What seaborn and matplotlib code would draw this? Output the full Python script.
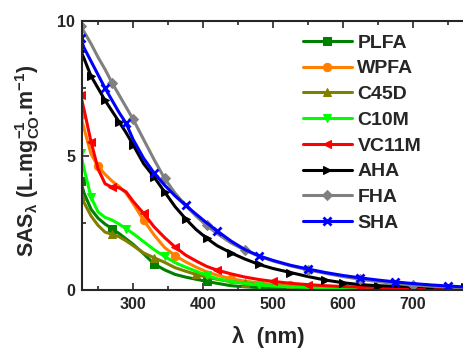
import numpy as np
import matplotlib
matplotlib.use('Agg')
import matplotlib.pyplot as plt
import seaborn as sns
from matplotlib.ticker import MultipleLocator, FixedLocator

wl = [225, 230, 240, 250, 260, 270, 280, 290, 300, 315, 330, 345, 360, 375, 390, 405,
      420, 440, 460, 480, 500, 525, 550, 575, 600, 625, 650, 675, 700, 725, 750, 775, 800]

plfa = [4.05, 3.6, 3.0, 2.67, 2.45, 2.28, 2.1, 1.9, 1.7, 1.35, 0.97, 0.75, 0.58, 0.48, 0.4, 0.32,
        0.25, 0.16, 0.12, 0.09, 0.07, 0.06, 0.05, 0.04, 0.04, 0.03, 0.03, 0.03, 0.02, 0.02, 0.02, 0.02, 0.02]
wpfa = [6.5, 6.0, 5.05, 4.6, 4.3, 4.05, 3.85, 3.6, 3.22, 2.6, 2.05, 1.58, 1.28, 1.05, 0.85, 0.68,
        0.55, 0.42, 0.33, 0.26, 0.21, 0.17, 0.14, 0.11, 0.09, 0.08, 0.07, 0.06, 0.05, 0.05, 0.04, 0.04, 0.03]
c45d = [3.5, 3.25, 2.75, 2.4, 2.15, 2.07, 1.98, 1.83, 1.65, 1.38, 1.2, 1.03, 0.83, 0.7, 0.58, 0.48,
        0.4, 0.31, 0.25, 0.2, 0.16, 0.13, 0.11, 0.09, 0.08, 0.07, 0.06, 0.05, 0.05, 0.04, 0.04, 0.04, 0.04]
c10m = [5.1, 4.5, 3.45, 2.9, 2.7, 2.6, 2.45, 2.28, 2.1, 1.8, 1.5, 1.25, 1.02, 0.85, 0.7, 0.55,
        0.42, 0.32, 0.25, 0.19, 0.15, 0.12, 0.1, 0.08, 0.07, 0.06, 0.05, 0.05, 0.04, 0.04, 0.03, 0.03, 0.03]
vc11m = [7.25, 6.7, 5.5, 4.5, 3.95, 3.82, 3.8, 3.65, 3.3, 2.85, 2.35, 1.95, 1.6, 1.3, 1.08, 0.88,
         0.74, 0.6, 0.48, 0.39, 0.32, 0.25, 0.2, 0.16, 0.13, 0.11, 0.09, 0.08, 0.07, 0.06, 0.05, 0.05, 0.04]
aha = [8.9, 8.6, 7.95, 7.5, 7.05, 6.65, 6.25, 5.85, 5.4, 4.7, 4.2, 3.65, 3.1, 2.65, 2.25, 1.93,
       1.65, 1.38, 1.15, 0.95, 0.8, 0.65, 0.5, 0.37, 0.27, 0.2, 0.16, 0.14, 0.13, 0.12, 0.11, 0.1, 0.09]
fha = [9.8, 9.6, 9.15, 8.65, 8.2, 7.7, 7.25, 6.8, 6.35, 5.6, 4.85, 4.15, 3.6, 3.15, 2.75, 2.4,
       2.1, 1.75, 1.48, 1.26, 1.08, 0.9, 0.75, 0.62, 0.5, 0.4, 0.31, 0.24, 0.18, 0.14, 0.11, 0.08, 0.06]
sha = [9.35, 9.0, 8.5, 8.0, 7.5, 7.05, 6.6, 6.2, 5.6, 4.9, 4.35, 3.9, 3.5, 3.15, 2.82, 2.5,
       2.2, 1.82, 1.5, 1.27, 1.1, 0.92, 0.78, 0.65, 0.54, 0.45, 0.37, 0.3, 0.24, 0.19, 0.15, 0.11, 0.09]

names = ['PLFA', 'WPFA', 'C45D', 'C10M', 'VC11M', 'AHA', 'FHA', 'SHA']
series = [plfa, wpfa, c45d, c10m, vc11m, aha, fha, sha]
colors = ['#008000', '#FF8000', '#808000', '#00FF00', '#FF0000', '#000000', '#808080', '#0000FF']
markers = ['s', 'o', '^', 'v', '<', '>', 'D', 'x']
every = [0.12, 0.12, 0.1, 0.1, 0.1, 0.06, 0.12, 0.1]
xticks = [300, 400, 500, 600, 700]

sns.set_style('ticks')
plt.rcParams['font.family'] = ['Liberation Sans', 'DejaVu Sans']
plt.rcParams['font.weight'] = 'bold'
plt.rcParams['mathtext.fontset'] = 'custom'
plt.rcParams['mathtext.bf'] = 'Liberation Sans:bold'
plt.rcParams['mathtext.rm'] = 'Liberation Sans:bold'
plt.rcParams['mathtext.default'] = 'bf'

fig = plt.figure(figsize=(4.64, 3.5), dpi=100)
ax = fig.add_axes([0.1767, 0.1714, 0.864, 0.7686])

for name, vals, c, m, me in zip(names, series, colors, markers, every):
    sns.lineplot(x=wl, y=vals, ax=ax, color=c, marker=m, markevery=me, label=name,
                 lw=2.2, ms=6 if m != 'D' else 5, mec=c, mfc=c, mew=2 if m == 'x' else 0.75)

ax.set_xlim(227, 800)
ax.set_ylim(0, 10)
ax.xaxis.set_major_locator(FixedLocator(xticks))
ax.xaxis.set_minor_locator(MultipleLocator(50))
ax.yaxis.set_major_locator(MultipleLocator(5))
ax.yaxis.set_minor_locator(MultipleLocator(2.5))
ax.tick_params(which='both', direction='in', top=True, width=1.2, labelsize=11.5, pad=5)
ax.tick_params(which='major', length=5)
ax.tick_params(which='minor', length=3)
for s in ax.spines.values():
    s.set_linewidth(1.5)

ax.set_xlabel('λ  (nm)', fontsize=16, fontweight='bold')
ax.set_ylabel(r'SAS$_\lambda$ (L.mg$_{CO}^{-1}$.m$^{-1}$)', fontsize=15.5, fontweight='bold')
ax.xaxis.set_label_coords(0.466, -0.134)
ax.yaxis.set_label_coords(-0.1, 0.48)

ax.legend(loc='upper left', bbox_to_anchor=(0.653, 0.903), bbox_transform=fig.transFigure,
          frameon=False, borderaxespad=0, borderpad=0, handlelength=2.5, handletextpad=0.3,
          labelspacing=0.42, prop={'size': 14, 'weight': 'bold'})

fig.savefig('out.png', dpi=100)
